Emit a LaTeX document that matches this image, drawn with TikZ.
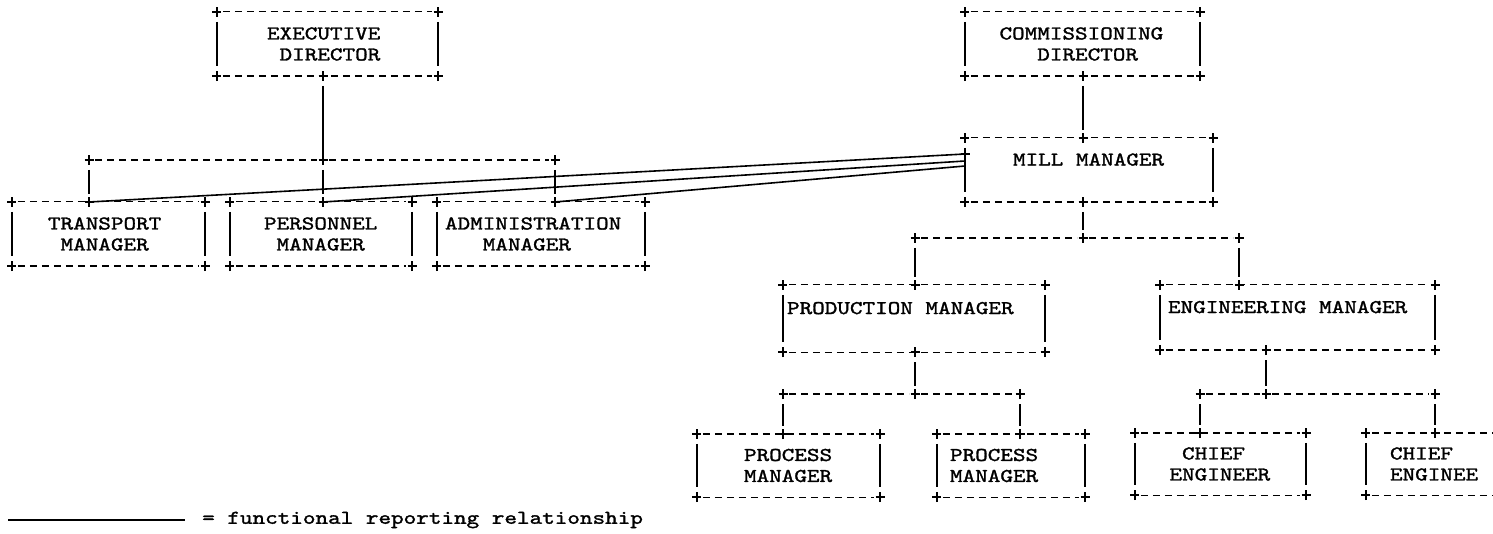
\documentclass[tikz,border=0pt]{standalone}
\usepackage{fontspec}
\setmonofont[FakeStretch=1.23, FakeBold=1.5]{lmmono10-regular.otf}
\newcommand{\blank}{\hphantom{M}}
\tikzset{
  unit/.style={font=\fontsize{19.5}{21}\selectfont\ttfamily, align=left, inner sep=0pt},
  crs/.pic={\draw[line width=1.6pt] (-4.5pt,0pt) -- (4.5pt,0pt) (0pt,-5pt) -- (0pt,5pt);},
  dashline/.style={line width=1.4pt, dash pattern=on 7pt off 5pt, shorten <=6pt, shorten >=6pt},
  bar/.style={line width=1.6pt},
  vline/.style={line width=1.6pt, shorten <=10pt, shorten >=8pt},
  fline/.style={line width=1.6pt}
}
\newcommand{\orgframe}[1]{%
  \draw[dashline] (#1.north west) -- (#1.north east);
  \draw[dashline] (#1.south west) -- (#1.south east);
  \draw[bar] ([yshift=-10pt]#1.north west) -- ([yshift=10pt]#1.south west);
  \draw[bar] ([yshift=-10pt]#1.north east) -- ([yshift=10pt]#1.south east);
  \foreach \c in {north west,north east,south west,south east}{\pic at (#1.\c) {crs};}
}
\begin{document}
\begin{tikzpicture}[x=1pt,y=-1pt]
\useasboundingbox (0,0) rectangle (1493,534);
\clip (0,0) rectangle (1493,534);

\node[unit, minimum width=221pt, minimum height=64pt, text width=121pt] (exec) at (327.5,44) {EXECUTIVE\\\blank DIRECTOR};
\node[unit, minimum width=235pt, minimum height=64pt, text width=166pt] (comm) at (1082.5,44) {COMMISSIONING\\\blank\blank\blank DIRECTOR};
\node[unit, minimum width=248pt, minimum height=64pt, text width=152pt] (mill) at (1089,170) {MILL\blank MANAGER\\\blank};
\node[unit, minimum width=193pt, minimum height=64pt, text width=121pt] (trn) at (108.5,234) {TRANSPORT\\\blank MANAGER};
\node[unit, minimum width=182pt, minimum height=64pt, text width=114pt] (per) at (321,234) {PERSONNEL\\\blank MANAGER};
\node[unit, minimum width=208pt, minimum height=64pt, text width=192pt] (adm) at (541,234) {ADMINISTRATION\\\blank\blank\blank MANAGER};
\node[unit, minimum width=262pt, minimum height=67pt, text width=254pt] (prd) at (914,318.5) {PRODUCTION\blank MANAGER\\\blank};
\node[unit, minimum width=275pt, minimum height=65pt, text width=259pt] (eng) at (1297.5,317.5) {ENGINEERING\blank MANAGER\\\blank};
\node[unit, minimum width=183pt, minimum height=63pt, text width=89pt] (pc1) at (788.5,465.5) {PROCESS\\MANAGER};
\node[unit, minimum width=148pt, minimum height=63pt, text width=122pt] (pc2) at (1011,465.5) {PROCESS\\MANAGER};
\node[unit, minimum width=171pt, minimum height=62pt, text width=102pt] (ce1) at (1220.5,464) {\blank CHIEF\\ENGINEER};
\node[unit, minimum width=174pt, minimum height=62pt, text width=126pt] (ce2) at (1453,464) {CHIEF\\ENGINEE};

\foreach \n in {exec,comm,mill,trn,per,adm,prd,eng,pc1,pc2,ce1,ce2}{\orgframe{\n}}

\coordinate (ex-b) at (323,76);
\coordinate (b1-l) at (89,160);
\coordinate (b1-c) at (323,160);
\coordinate (b1-r) at (555,160);
\coordinate (tr-t) at (89,202);
\coordinate (pe-t) at (323,202);
\coordinate (ad-t) at (555,202);
\coordinate (co-b) at (1083,76);
\coordinate (mi-t) at (1083,138);
\coordinate (mi-b) at (1083,202);
\coordinate (mf-1) at (965,154);
\coordinate (mf-2) at (965,161);
\coordinate (mf-3) at (965,166);
\coordinate (b2-l) at (915,238);
\coordinate (b2-c) at (1083,238);
\coordinate (b2-r) at (1239,238);
\coordinate (pr-t) at (915,285);
\coordinate (pr-b) at (915,352);
\coordinate (en-t) at (1239,285);
\coordinate (en-b) at (1266,350);
\coordinate (b3-l) at (783,394);
\coordinate (b3-c) at (915,394);
\coordinate (b3-r) at (1020,394);
\coordinate (b4-l) at (1200,394);
\coordinate (b4-c) at (1266,394);
\coordinate (b4-r) at (1435,394);
\coordinate (p1-t) at (783,434);
\coordinate (p2-t) at (1020,434);
\coordinate (c1-t) at (1200,433);
\coordinate (c2-t) at (1435,433);

\draw[dashline] (b1-l) -- (b1-c);
\draw[dashline] (b1-c) -- (b1-r);
\draw[dashline] (b2-l) -- (b2-c);
\draw[dashline] (b2-c) -- (b2-r);
\draw[dashline] (b3-l) -- (b3-c);
\draw[dashline] (b3-c) -- (b3-r);
\draw[dashline] (b4-l) -- (b4-c);
\draw[dashline] (b4-c) -- (b4-r);
\foreach \p in {ex-b,b1-l,b1-c,b1-r,tr-t,pe-t,ad-t,co-b,mi-t,mi-b,mf-1,b2-l,b2-c,b2-r,pr-t,pr-b,en-t,en-b,b3-l,b3-c,b3-r,b4-l,b4-c,b4-r,p1-t,p2-t,c1-t,c2-t}
  \pic at (\p) {crs};

\draw[vline, shorten >=1pt] (ex-b) -- (b1-c);
\draw[vline] (b1-l) -- (tr-t);
\draw[vline] (b1-c) -- (pe-t);
\draw[vline] (b1-r) -- (ad-t);
\draw[vline] (co-b) -- (mi-t);
\draw[vline] (mi-b) -- (b2-c);
\draw[vline] (b2-l) -- (pr-t);
\draw[vline] (b2-r) -- (en-t);
\draw[vline] (pr-b) -- (b3-c);
\draw[vline] (b3-l) -- (p1-t);
\draw[vline] (b3-r) -- (p2-t);
\draw[vline] (en-b) -- (b4-c);
\draw[vline] (b4-l) -- (c1-t);
\draw[vline] (b4-r) -- (c2-t);

\draw[fline] (tr-t) -- (mf-1);
\draw[fline] (pe-t) -- (mf-2);
\draw[fline] (ad-t) -- (mf-3);

\coordinate (key-l) at (8,520);
\node[unit, anchor=west, inner xsep=17pt] (key) at (185,520) {=\blank functional\blank reporting\blank relationship};
\draw[fline] (key-l) -- (key.west);
\end{tikzpicture}
\end{document}
